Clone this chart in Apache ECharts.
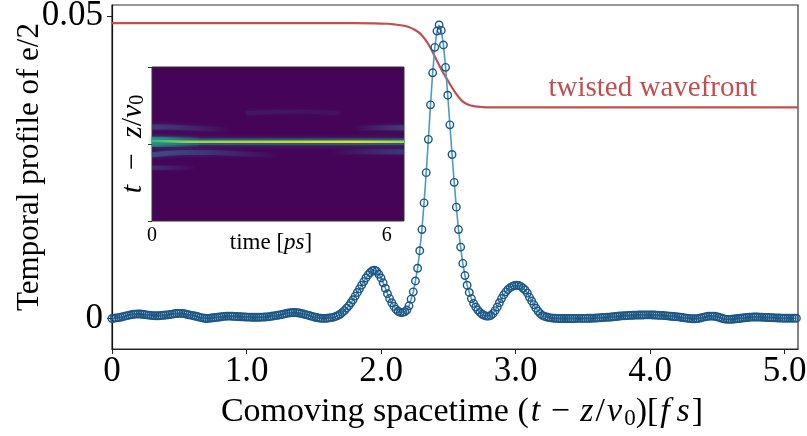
<!DOCTYPE html>
<html>
<head>
<meta charset="utf-8">
<script src="https://cdn.jsdelivr.net/npm/echarts@6/dist/echarts.min.js"></script>
<style>
html, body { margin: 0; padding: 0; background: #fff; }
#chart { width: 807px; height: 436px; }
</style>
</head>
<body>
<div id="chart"></div>
<script>
// main curve: samples every xStep fs, values in units of 1e-3
const xStep = 0.016;
const profile = [
  0, 0.05, 0.1, 0.15, 0.2, 0.3, 0.4, 0.47, 0.55, 0.63,
  0.7, 0.73, 0.75, 0.74, 0.7, 0.65, 0.6, 0.56, 0.52, 0.48,
  0.46, 0.45, 0.46, 0.5, 0.53, 0.57, 0.6, 0.65, 0.72, 0.78,
  0.82, 0.85, 0.85, 0.82, 0.75, 0.67, 0.6, 0.52, 0.45, 0.37,
  0.28, 0.18, 0.1, 0.04, 0, 0.02, 0.07, 0.12, 0.17, 0.2,
  0.25, 0.3, 0.35, 0.38, 0.4, 0.39, 0.37, 0.35, 0.32, 0.3,
  0.29, 0.27, 0.25, 0.23, 0.22, 0.2, 0.2, 0.2, 0.2, 0.21,
  0.22, 0.24, 0.26, 0.3, 0.36, 0.42, 0.48, 0.54, 0.6, 0.67,
  0.75, 0.83, 0.9, 0.96, 1.0, 0.99, 0.96, 0.9, 0.82, 0.74,
  0.64, 0.55, 0.45, 0.35, 0.25, 0.16, 0.09, 0.05, 0.02, 0.02,
  0.05, 0.1, 0.15, 0.22, 0.35, 0.5, 0.7, 1.0, 1.3, 1.7,
  2.1, 2.6, 3.1, 3.7, 4.3, 4.9, 5.5, 6.1, 6.7, 7.2,
  7.6, 7.9, 8.0, 7.8, 7.3, 6.7, 5.9, 5.0, 4.1, 3.3,
  2.6, 2.0, 1.5, 1.2, 1.0, 1.0, 1.1, 1.4, 2.1, 3.2,
  4.4, 6.2, 8.3, 11.2, 14.7, 19.1, 24.1, 29.6, 35.3, 40.6,
  44.8, 47.5, 48.5, 47.6, 45.2, 41.5, 36.9, 32.0, 27.1, 22.5,
  18.4, 14.7, 11.8, 9.1, 7.1, 5.5, 4.3, 3.3, 2.5, 1.9,
  1.4, 1.0, 0.7, 0.5, 0.4, 0.4, 0.5, 0.8, 1.3, 1.9,
  2.6, 3.3, 3.9, 4.4, 4.8, 5.1, 5.3, 5.45, 5.5, 5.45,
  5.3, 5.0, 4.7, 4.2, 3.5, 2.9, 2.3, 1.7, 1.2, 0.8,
  0.5, 0.35, 0.25, 0.15, 0.1, 0.05, 0.03, 0.02, 0, 0,
  0, 0, 0, 0, 0, 0, 0.02, 0.02, 0.02, 0.02,
  0.02, 0.03, 0.04, 0.05, 0.06, 0.08, 0.1, 0.13, 0.16, 0.18,
  0.2, 0.22, 0.25, 0.29, 0.33, 0.37, 0.41, 0.44, 0.46, 0.48,
  0.5, 0.52, 0.53, 0.55, 0.56, 0.57, 0.58, 0.59, 0.6, 0.6,
  0.6, 0.59, 0.57, 0.55, 0.53, 0.51, 0.5, 0.47, 0.44, 0.4,
  0.37, 0.33, 0.3, 0.26, 0.21, 0.16, 0.11, 0.06, 0.02, -0.02,
  -0.05, -0.05, -0.02, 0.05, 0.13, 0.22, 0.3, 0.36, 0.4, 0.4,
  0.37, 0.3, 0.2, 0.08, -0.03, -0.1, -0.15, -0.15, -0.12, -0.08,
  -0.04, 0, 0.04, 0.08, 0.12, 0.16, 0.2, 0.23, 0.25, 0.25,
  0.24, 0.23, 0.21, 0.19, 0.17, 0.16, 0.15, 0.13, 0.11, 0.09,
  0.07, 0.06, 0.05, 0.05, 0.05, 0.05, 0.05, 0.05, 0.05
];

// twisted wavefront step
const redX = [0, 1.8, 1.95, 2.05, 2.1, 2.15, 2.2, 2.25, 2.3, 2.35, 2.4, 2.45, 2.5, 2.55, 2.6, 2.65, 2.7, 2.75, 2.8, 2.9, 5.1];
const redY = [48.8, 48.8, 48.78, 48.7, 48.6, 48.45, 48.2, 47.7, 46.9, 45.4, 43.3, 41.1, 39.2, 37.4, 36.0, 35.3, 35.05, 34.95, 34.9, 34.9, 34.9];

const xTickValues = [0, 1, 2, 3, 4, 5];
const xTickLabels = ['0', '1.0', '2.0', '3.0', '4.0', '5.0'];
const yTickValues = [0, 50];
const yTickLabels = ['0', '0.05'];

// inset (time in ps, position in t - z/v0, arbitrary)
const insetTime = [0, 0.4, 0.8, 1.2, 1.6, 2.0, 2.4, 2.8, 3.2, 3.6, 4.0, 4.4, 4.8, 5.2, 5.6, 6.0, 6.44];
const mainBand = [0.04, 0.035, 0.03, 0.03, 0.03, 0.03, 0.03, 0.03, 0.03, 0.03, 0.03, 0.03, 0.03, 0.03, 0.03, 0.03, 0.03];
const leftGlowTime = [0, 0.4, 0.8, 1.2];
const leftGlow = [0.03, 0.03, 0.03, 0.03];
const upperTime = [0, 0.4, 0.8, 1.2, 1.6, 2.0];
const upperBand = [0.22, 0.22, 0.21, 0.2, 0.19, 0.18];
const upperRightTime = [5.2, 5.6, 6.0, 6.44];
const upperRight = [0.2, 0.21, 0.21, 0.21];
const lowerTime = [0, 0.4, 0.8, 1.2, 1.6, 2.0, 2.4, 2.8, 3.2];
const lowerBand = [-0.14, -0.12, -0.11, -0.11, -0.11, -0.12, -0.13, -0.14, -0.15];
const lowerRightTime = [4.6, 5.2, 5.8, 6.44];
const lowerRight = [-0.11, -0.1, -0.1, -0.1];
const lowestTime = [0, 0.4, 0.8, 1.1];
const lowestBand = [-0.31, -0.31, -0.31, -0.31];
const faintTime = [2.4, 3.2, 4.0, 4.8];
const faintBand = [0.4, 0.42, 0.42, 0.4];

const annotation = { text: 'twisted wavefront', at: [4.02, 38.1] };

const serif = '"Liberation Serif", "Times New Roman", serif';
const red = '#c24f50';

const chart = echarts.init(document.getElementById('chart'));

const profileData = profile.map((v, i) => [i * xStep, v]);
const redData = redX.map((x, i) => [x, redY[i]]);
const pairs = (xs, ys) => xs.map((x, i) => [x, ys[i]]);

function fade(color, a0, a1) {
  return new echarts.graphic.LinearGradient(0, 0, 1, 0, [
    { offset: 0, color: 'rgba(' + color + ',' + a0 + ')' },
    { offset: 1, color: 'rgba(' + color + ',' + a1 + ')' }
  ]);
}

function insetLine(data, width, color, blur) {
  return {
    type: 'line', xAxisIndex: 1, yAxisIndex: 1, data: data, symbol: 'none',
    silent: true, z: 5,
    lineStyle: { width: width, color: color, shadowBlur: blur || 0, shadowColor: 'rgba(40,150,140,0.6)' }
  };
}

const mathRich = {
  n: { fontFamily: serif, fontSize: 34, color: '#000', lineHeight: 36 },
  i: { fontFamily: serif, fontSize: 34, color: '#000', fontStyle: 'italic', lineHeight: 36, padding: [0, 2, 0, 2] },
  s: { fontFamily: serif, fontSize: 23, color: '#000', lineHeight: 16, verticalAlign: 'bottom' }
};
const insetRich = {
  n: { fontFamily: serif, fontSize: 23, color: '#000', lineHeight: 24 },
  i: { fontFamily: serif, fontSize: 23, color: '#000', fontStyle: 'italic', lineHeight: 24 },
  s: { fontFamily: serif, fontSize: 16, color: '#000', lineHeight: 11, verticalAlign: 'bottom' }
};
const insetRichY = {
  n: { fontFamily: serif, fontSize: 30, color: '#000', lineHeight: 30 },
  i: { fontFamily: serif, fontSize: 30, color: '#000', fontStyle: 'italic', lineHeight: 30 },
  s: { fontFamily: serif, fontSize: 20, color: '#000', lineHeight: 12, verticalAlign: 'bottom' }
};

chart.setOption({
  animation: false,
  grid: [
    { left: 112, right: 9, top: 5, bottom: 87, outerBoundsMode: 'none', containLabel: false,
      show: true, borderColor: '#333', borderWidth: 1.2 },
    { left: 152, top: 67, width: 252, height: 154, outerBoundsMode: 'none', containLabel: false,
      show: true, backgroundColor: '#450457', borderColor: '#333', borderWidth: 1, z: 4 }
  ],
  xAxis: [{
    type: 'value', gridIndex: 0, min: 0, max: 5.1,
    axisLine: { show: true, onZero: false, lineStyle: { color: '#222', width: 1.2 } },
    axisTick: { show: true, inside: false, length: 5, customValues: xTickValues, lineStyle: { color: '#222', width: 1 } },
    axisLabel: {
      customValues: xTickValues, margin: 5,
      formatter: v => xTickLabels[xTickValues.indexOf(v)],
      fontFamily: serif, fontSize: 35, color: '#000'
    },
    splitLine: { show: false },
    name: '{n|Comoving spacetime (}{i|t}{n| − }{i|z}{n|/}{i|v}{s|0}{n|)[}{i|f\u2009s}{n|]}',
    nameLocation: 'middle', nameGap: 45, nameMoveOverlap: false,
    nameTextStyle: { rich: mathRich, padding: [0, 0, 0, 14] }
  }, {
    type: 'value', gridIndex: 1, min: 0, max: 6.44,
    axisLine: { show: false },
    axisTick: { show: true, inside: false, length: 4, customValues: [0, 6], lineStyle: { color: '#333' } },
    axisLabel: { customValues: [0, 6], margin: 5, fontFamily: serif, fontSize: 20, color: '#000' },
    splitLine: { show: false },
    name: '{n|time [}{i|ps}{n|]}',
    nameLocation: 'middle', nameGap: 10, nameMoveOverlap: false,
    nameTextStyle: { rich: insetRich, padding: [0, 14, 0, 0] }
  }],
  yAxis: [{
    type: 'value', gridIndex: 0, min: -5.04, max: 51.8,
    axisLine: { show: true, lineStyle: { color: '#111', width: 1.2 } },
    axisTick: { show: true, inside: false, length: 5, customValues: yTickValues, lineStyle: { color: '#222', width: 1 } },
    axisLabel: {
      customValues: yTickValues, margin: 9,
      formatter: v => yTickLabels[yTickValues.indexOf(v)],
      fontFamily: serif, fontSize: 35, color: '#000'
    },
    splitLine: { show: false },
    name: 'Temporal profile of e/2',
    nameLocation: 'middle', nameGap: 67, nameMoveOverlap: false,
    nameTextStyle: { fontFamily: serif, fontSize: 31, color: '#000', padding: [0, 0, 0, 20] }
  }, {
    type: 'value', gridIndex: 1, min: -1, max: 1,
    axisLine: { show: false },
    axisTick: { show: true, inside: false, length: 4, customValues: [-1, 0, 1], lineStyle: { color: '#333' } },
    axisLabel: { show: false },
    splitLine: { show: false },
    name: '{i|t}{n|\u2002−\u2002}{i|z}{n|/}{i|v}{s|0}',
    nameLocation: 'middle', nameGap: 4, nameMoveOverlap: false,
    nameTextStyle: { rich: insetRichY }
  }],
  series: [
    {
      type: 'line', data: redData, smooth: 0.4, symbol: 'none', z: 2,
      lineStyle: { color: red, width: 2.2 },
      markPoint: {
        symbol: 'circle', symbolSize: 0, silent: true,
        data: [{ coord: annotation.at }],
        label: { show: true, position: 'inside', formatter: annotation.text,
          fontFamily: serif, fontSize: 29, color: red }
      }
    },
    {
      type: 'line', data: profileData, z: 3,
      symbol: 'circle', symbolSize: 7.5, showAllSymbol: true,
      lineStyle: { color: '#4a9cc2', width: 1.6 },
      itemStyle: { color: 'rgba(0,0,0,0)', borderColor: '#1d5785', borderWidth: 1.4 }
    },
    insetLine(pairs(faintTime, faintBand), 4, fade('70,60,140', 0.2, 0.12), 4),
    insetLine(pairs(upperTime, upperBand), 5, fade('75,75,150', 0.55, 0), 4),
    insetLine(pairs(upperRightTime, upperRight), 5, fade('75,75,150', 0, 0.55), 4),
    insetLine(pairs(lowerTime, lowerBand), 5, fade('60,90,150', 0.7, 0), 4),
    insetLine(pairs(lowerRightTime, lowerRight), 5, fade('60,90,150', 0, 0.45), 4),
    insetLine(pairs(lowestTime, lowestBand), 4, fade('70,70,140', 0.4, 0), 3),
    insetLine(pairs(insetTime, mainBand), 7, 'rgba(38,130,142,0.55)', 6),
    insetLine(pairs(leftGlowTime, leftGlow), 10, fade('31,158,137', 0.85, 0), 4),
    insetLine(pairs(insetTime, mainBand), 2.4, new echarts.graphic.LinearGradient(0, 0, 1, 0, [
      { offset: 0, color: '#2fb47c' },
      { offset: 0.15, color: '#8fd744' },
      { offset: 0.55, color: '#c2df23' },
      { offset: 0.8, color: '#dde318' },
      { offset: 1, color: '#a5db36' }
    ]), 0)
  ]
});
</script>
</body>
</html>
